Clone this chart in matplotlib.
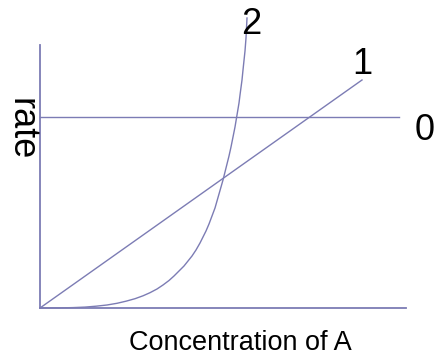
import matplotlib
matplotlib.use("Agg")
import matplotlib.pyplot as plt
import numpy as np

# data (arbitrary units)
zero_x = [0, 359]
zero_y = [191, 191]

first_x = [0, 322]
first_y = [0, 228]

# second order curve
second_x = [0, 20, 33, 45, 56, 67, 77, 86, 95, 103, 110, 117, 123, 129, 134,
            139, 144, 148, 152, 156, 160, 163, 166, 169, 172, 175, 177, 179,
            181, 183, 185, 187, 189, 191, 193, 195, 197, 199, 200, 202, 203,
            205, 206, 207]
second_y = [0, 0.1, 0.4, 0.9, 1.8, 3, 4.7, 6.8, 9.3, 12.2, 15.3, 19, 23, 27.5, 32,
            37, 42, 47, 52, 58, 65, 71, 77, 84, 92, 100, 107, 114,
            121, 128, 136, 144, 152, 161, 171, 181, 193, 205, 213, 228, 238,
            257, 270, 290]

axis_len_x = 366
axis_len_y = 263

line_color = "#7c7cb4"

fig = plt.figure(figsize=(4.35, 3.56), dpi=100)
ax = fig.add_axes([0, 0, 1, 1])
ax.set_xlim(-40, 395)
ax.set_ylim(-48, 308)
ax.axis("off")

# axes
ax.plot([0, 0], [0, axis_len_y], color=line_color, lw=1.3)
ax.plot([0, axis_len_x], [0, 0], color=line_color, lw=1.3)

ax.plot(zero_x, zero_y, color=line_color, lw=1.0)
ax.plot(first_x, first_y, color=line_color, lw=1.0)
ax.plot(second_x, second_y, color=line_color, lw=1.0)

font = "Liberation Sans"
ax.text(211, 283, "2", fontsize=26, family=font, ha="center", va="center")
ax.text(322, 243, "1", fontsize=26, family=font, ha="center", va="center")
ax.text(385, 178, "0", fontsize=26, family=font, ha="center", va="center")
ax.text(-19, 179, "rate", fontsize=26, family=font, rotation=270,
        ha="center", va="center")
ax.text(200, -35, "Concentration of A", fontsize=19.5, family=font,
        ha="center", va="center")

plt.savefig("out.png", dpi=100)
